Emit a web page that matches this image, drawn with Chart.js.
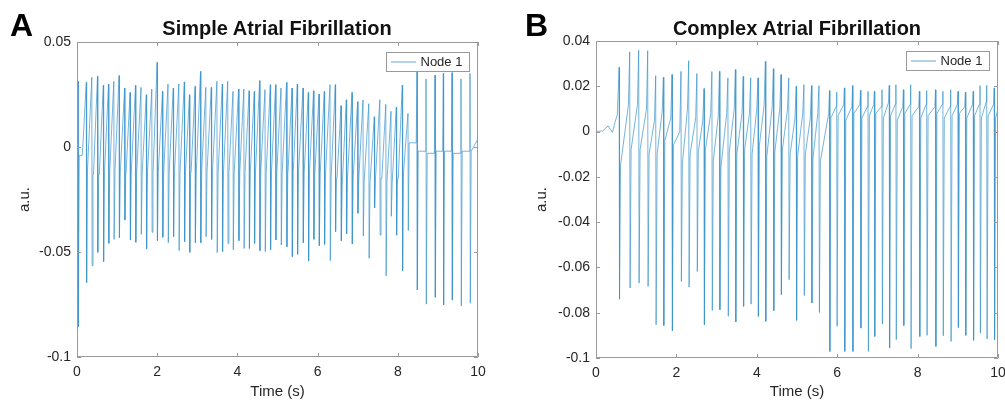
<!DOCTYPE html>
<html>
<head>
<meta charset="utf-8">
<script src="https://cdn.jsdelivr.net/npm/chart.js@4.4.1/dist/chart.umd.min.js"></script>
<style>
  body { margin: 0; background: #fff; width: 1005px; height: 403px; position: relative; overflow: hidden;
         font-family: "Liberation Sans", Arial, Helvetica, sans-serif; color: #000; }
  .panel { position: absolute; top: 0; height: 403px; }
  .letter { position: absolute; font-weight: bold; font-size: 32px; line-height: 32px; }
  .title { position: absolute; font-weight: bold; font-size: 20px; line-height: 20px; white-space: nowrap; transform: translateX(-50%); color: #111; }
</style>
</head>
<body>
<div class="panel" style="left:0;width:500px"><canvas id="chartA" width="500" height="403"></canvas></div>
<div class="panel" style="left:500px;width:505px"><canvas id="chartB" width="505" height="403"></canvas></div>
<div class="letter" style="left:10px;top:9px">A</div>
<div class="letter" style="left:525px;top:9px">B</div>
<div class="title" style="left:277px;top:18px">Simple Atrial Fibrillation</div>
<div class="title" style="left:797px;top:18px">Complex Atrial Fibrillation</div>
<script>
// ---- panel A : simple AF ----
var spikeTimesA = [0.025, 0.232, 0.369, 0.511, 0.656, 0.786, 0.918, 1.05, 1.187, 1.324,
    1.459, 1.596, 1.728, 1.865, 1.998, 2.132, 2.269, 2.401, 2.539, 2.676,
    2.805, 2.945, 3.08, 3.212, 3.349, 3.489, 3.623, 3.758, 3.89, 4.03,
    4.16, 4.292, 4.421, 4.554, 4.688, 4.82, 4.953, 5.087, 5.227, 5.362,
    5.494, 5.636, 5.768, 5.9, 6.035, 6.167, 6.309, 6.441, 6.584, 6.716,
    6.858, 6.998, 7.132, 7.277, 7.414, 7.551, 7.701, 7.83, 7.963, 8.112,
    8.254, 8.479, 8.703, 8.928, 9.135, 9.352, 9.576, 9.8];
var peakA = [0.0313, 0.0308, 0.0332, 0.0337, 0.0294, 0.030, 0.0313, 0.034, 0.0281, 0.026,
    0.0294, 0.0284, 0.0249, 0.0276, 0.0403, 0.0265, 0.030, 0.0281, 0.030, 0.031,
    0.0249, 0.0289, 0.036, 0.0284, 0.0284, 0.0313, 0.030, 0.0313, 0.0265, 0.0276,
    0.0276, 0.0268, 0.0265, 0.0316, 0.0273, 0.0297, 0.0297, 0.0281, 0.0308, 0.0281,
    0.030, 0.0281, 0.026, 0.0268, 0.0252, 0.0265, 0.0297, 0.0297, 0.0197, 0.0225,
    0.026, 0.0216, 0.0224, 0.0206, 0.0144, 0.0225, 0.0203, 0.017, 0.019, 0.0295,
    0.016, 0.0359, 0.0324, 0.0343, 0.0351, 0.0354, 0.0324, 0.0351];
var troughA = [-0.0856, -0.0646, -0.0565, -0.0502, -0.0546, -0.0459, -0.044, -0.0432, -0.0348, -0.0443,
    -0.0454, -0.0416, -0.0486, -0.0406, -0.0446, -0.043, -0.0456, -0.0427, -0.0494, -0.0451,
    -0.0502, -0.0456, -0.0456, -0.0427, -0.044, -0.0503, -0.0498, -0.0459, -0.049, -0.0446,
    -0.0483, -0.0483, -0.0459, -0.0494, -0.0498, -0.049, -0.0443, -0.0467, -0.0475, -0.0522,
    -0.0511, -0.0456, -0.0543, -0.044, -0.047, -0.0464, -0.0541, -0.0403, -0.0447, -0.0414,
    -0.0462, -0.0316, -0.0424, -0.053, -0.029, -0.0419, -0.0614, -0.033, -0.042, -0.059,
    -0.0398, -0.0681, -0.0748, -0.0716, -0.0752, -0.0729, -0.0757, -0.0744];
var restA = [-0.004, -0.011, -0.013, -0.013, -0.012, -0.012, -0.011, -0.012, -0.012, -0.012,
    -0.012, -0.012, -0.012, -0.011, -0.012, -0.012, -0.012, -0.012, -0.012, -0.012,
    -0.012, -0.012, -0.011, -0.012, -0.012, -0.012, -0.012, -0.011, -0.012, -0.012,
    -0.012, -0.012, -0.012, -0.011, -0.012, -0.012, -0.012, -0.012, -0.012, -0.012,
    -0.012, -0.012, -0.012, -0.013, -0.013, -0.013, -0.014, -0.015, -0.018, -0.015,
    -0.014, -0.015, -0.016, -0.017, -0.015, -0.015, -0.016, -0.017, -0.015, -0.012,
    0.002, -0.002, -0.003, -0.002, -0.002, -0.003, -0.002, -0.002];
var riseA = [0.1, 0.1, 0.1, 0.1, 0.1, 0.1, 0.1, 0.1, 0.1, 0.1,
    0.1, 0.1, 0.1, 0.1, 0.1, 0.1, 0.1, 0.1, 0.1, 0.1,
    0.1, 0.1, 0.1, 0.1, 0.1, 0.1, 0.1, 0.1, 0.1, 0.1,
    0.1, 0.1, 0.1, 0.1, 0.1, 0.1, 0.1, 0.1, 0.1, 0.1,
    0.1, 0.1, 0.1, 0.1, 0.1, 0.1, 0.1, 0.1, 0.1, 0.1,
    0.1, 0.1, 0.1, 0.1, 0.1, 0.1, 0.1, 0.1, 0.1, 0.1,
    0.1, 0.02, 0.015, 0.015, 0.015, 0.015, 0.015, 0.015];
var startA = 0.0;
var endA = 0.004;

// ---- panel B : complex AF ----
var leadTimesB = [0, 0.17, 0.24, 0.30, 0.36, 0.41, 0.47, 0.53];
var leadValuesB = [0, 0.0003, 0.0015, 0.0025, 0.001, -0.0003, 0.004, 0.0074];
var spikeTimesB = [0.575, 0.838, 1.062, 1.286, 1.485, 1.677, 1.891, 2.114, 2.306, 2.51,
    2.687, 2.883, 3.072, 3.281, 3.468, 3.662, 3.848, 4.03, 4.214, 4.413,
    4.602, 4.794, 4.98, 5.172, 5.361, 5.547, 5.808, 5.988, 6.179, 6.381,
    6.58, 6.766, 6.925, 7.114, 7.294, 7.46, 7.647, 7.828, 8.045, 8.226,
    8.445, 8.629, 8.823, 9.005, 9.189, 9.383, 9.552, 9.719, 9.905];
var peakB = [0.0284, 0.0352, 0.0359, 0.0357, 0.0247, 0.024, 0.0252, 0.0266, 0.0313, 0.0256,
    0.019, 0.0265, 0.0266, 0.0237, 0.0274, 0.0244, 0.0237, 0.0237, 0.031, 0.0278,
    0.0252, 0.0237, 0.020, 0.0207, 0.0203, 0.0203, 0.0181, 0.0174, 0.0193, 0.0203,
    0.0182, 0.0178, 0.0178, 0.0185, 0.0204, 0.0207, 0.0185, 0.0207, 0.0178, 0.0181,
    0.0185, 0.0178, 0.0185, 0.0178, 0.0174, 0.0178, 0.0203, 0.0204, 0.0193];
var troughB = [-0.074, -0.0691, -0.0669, -0.0684, -0.0853, -0.0857, -0.088, -0.0662, -0.0687, -0.0618,
    -0.0853, -0.079, -0.0787, -0.0816, -0.0841, -0.0772, -0.0762, -0.0816, -0.0838, -0.0791,
    -0.072, -0.0654, -0.0834, -0.0724, -0.0757, -0.0799, -0.0971, -0.086, -0.0971, -0.0971,
    -0.0868, -0.0971, -0.0905, -0.085, -0.0956, -0.0919, -0.0857, -0.0959, -0.0905, -0.09,
    -0.0949, -0.0902, -0.0927, -0.0865, -0.09, -0.0922, -0.089, -0.0916, -0.0919];
var restB = [-0.015, -0.008, -0.008, -0.010, -0.010, -0.004, -0.006, -0.014, -0.010, -0.009,
    -0.008, -0.013, -0.016, -0.009, -0.010, -0.008, -0.010, -0.006, -0.011, -0.009,
    -0.008, -0.010, -0.011, -0.010, -0.012, -0.013, 0.006, 0.007, 0.005, 0.008,
    0.006, 0.007, 0.008, 0.006, 0.007, 0.005, 0.008, 0.007, 0.006, 0.007,
    0.008, 0.006, 0.007, 0.008, 0.006, 0.007, 0.006, 0.007, 0.006];
var preB = [0.0074, 0.012, 0.012, 0.010, 0.005, 0.009, 0.006, 0.0, 0.010, 0.006,
    0.005, 0.008, 0.007, 0.008, 0.010, 0.008, 0.008, 0.010, 0.012, 0.011,
    0.010, 0.010, 0.006, 0.008, 0.006, 0.008, 0.008, 0.011, 0.012, 0.011,
    0.012, 0.011, 0.012, 0.011, 0.013, 0.012, 0.011, 0.012, 0.011, 0.012,
    0.011, 0.012, 0.011, 0.012, 0.011, 0.012, 0.012, 0.013, 0.012];
var riseB = [0.03, 0.03, 0.03, 0.03, 0.03, 0.03, 0.03, 0.03, 0.03, 0.03,
    0.03, 0.03, 0.03, 0.03, 0.03, 0.03, 0.03, 0.03, 0.03, 0.03,
    0.03, 0.03, 0.03, 0.03, 0.03, 0.03, 0.02, 0.015, 0.015, 0.015,
    0.015, 0.015, 0.015, 0.015, 0.015, 0.015, 0.015, 0.015, 0.015, 0.015,
    0.015, 0.015, 0.015, 0.015, 0.015, 0.015, 0.015, 0.015, 0.015];
var endB = 0.01;

var xTicks = [0, 2, 4, 6, 8, 10];
var yTicksA = [-0.1, -0.05, 0, 0.05];
var yTicksB = [-0.1, -0.08, -0.06, -0.04, -0.02, 0, 0.02, 0.04];
var legendLabel = 'Node 1';

var lineColor = '#3b93cc';
var axisColor = '#9a9a9a';
var textColor = '#262626';

Chart.defaults.font.family = '"Liberation Sans", Arial, Helvetica, sans-serif';
Chart.defaults.color = textColor;

function buildSignalA() {
    var pts = [{x: 0, y: startA}];
    var restT = 0;
    for (let i = 0; i < spikeTimesA.length; i++) {
        var t = spikeTimesA[i];
        if (i > 0) {
            var preT = Math.max(t - riseA[i], restT + 0.004);
            pts.push({x: preT, y: restA[i - 1]});
        }
        pts.push({x: t, y: peakA[i]});
        pts.push({x: t + 0.008, y: troughA[i]});
        restT = t + 0.03;
        pts.push({x: restT, y: restA[i]});
    }
    pts.push({x: 10, y: endA});
    return pts;
}

function buildSignalB() {
    var pts = [];
    for (let k = 0; k < leadTimesB.length; k++) {
        pts.push({x: leadTimesB[k], y: leadValuesB[k]});
    }
    for (let i = 0; i < spikeTimesB.length; i++) {
        var t = spikeTimesB[i];
        pts.push({x: t - riseB[i], y: preB[i]});
        pts.push({x: t, y: peakB[i]});
        pts.push({x: t + 0.01, y: troughB[i]});
        pts.push({x: t + 0.035, y: restB[i]});
    }
    pts.push({x: 10, y: endB});
    return pts;
}

function fmtTick(v) {
    return String(Math.round(v * 1000) / 1000);
}

// box, inward ticks on all four sides and the legend, MATLAB style
var matlabAxes = {
    id: 'matlabAxes',
    afterDraw: function(chart) {
        var ctx = chart.ctx;
        var a = chart.chartArea;
        var xs = chart.scales.x;
        var ys = chart.scales.y;
        var yt = chart.options.plugins.matlabAxes.yTicks;
        ctx.save();
        ctx.strokeStyle = axisColor;
        ctx.lineWidth = 1;
        ctx.beginPath();
        ctx.rect(a.left + 0.5, a.top + 0.5, a.right - a.left - 1, a.bottom - a.top - 1);
        xTicks.forEach(function(v) {
            var px = Math.round(xs.getPixelForValue(v)) + 0.5;
            ctx.moveTo(px, a.bottom); ctx.lineTo(px, a.bottom - 4);
            ctx.moveTo(px, a.top); ctx.lineTo(px, a.top + 4);
        });
        yt.forEach(function(v) {
            var py = Math.round(ys.getPixelForValue(v)) + 0.5;
            ctx.moveTo(a.left, py); ctx.lineTo(a.left + 4, py);
            ctx.moveTo(a.right, py); ctx.lineTo(a.right - 4, py);
        });
        ctx.stroke();

        // legend
        var bw = 83, bh = 19;
        var bx = Math.round(a.right - 9 - bw) + 0.5;
        var by = Math.round(a.top + 10) + 0.5;
        ctx.fillStyle = '#fff';
        ctx.fillRect(bx, by, bw, bh);
        ctx.strokeStyle = '#9a9a9a';
        ctx.strokeRect(bx, by, bw, bh);
        ctx.strokeStyle = lineColor;
        ctx.lineWidth = 0.8;
        ctx.beginPath();
        ctx.moveTo(bx + 4.5, by + bh / 2);
        ctx.lineTo(bx + 29.5, by + bh / 2);
        ctx.stroke();
        ctx.fillStyle = textColor;
        ctx.font = '13px "Liberation Sans", Arial, sans-serif';
        ctx.textBaseline = 'middle';
        ctx.textAlign = 'left';
        ctx.fillText(legendLabel, bx + 34, by + bh / 2 + 0.5);
        ctx.restore();
    }
};

function makeConfig(points, yMin, yMax, yStep, yTicks, yAxisWidth, xAxisHeight, pad, titleOffset) {
    return {
        type: 'line',
        data: {
            datasets: [{
                label: legendLabel,
                data: points,
                borderColor: lineColor,
                borderWidth: 0.7,
                pointRadius: 0,
                tension: 0,
                fill: false
            }]
        },
        options: {
            responsive: false,
            animation: false,
            devicePixelRatio: 1,
            layout: {padding: pad},
            plugins: {
                legend: {display: false},
                tooltip: {enabled: false},
                matlabAxes: {yTicks: yTicks}
            },
            scales: {
                x: {
                    type: 'linear',
                    min: 0,
                    max: 10,
                    grid: {display: false, drawTicks: false},
                    border: {display: false},
                    ticks: {stepSize: 2, autoSkip: false, maxRotation: 0, padding: 7,
                            font: {size: 14}, color: textColor,
                            callback: function(v) { return fmtTick(v); }},
                    title: {display: true, text: 'Time (s)', font: {size: 15}, color: textColor,
                            padding: {top: 0, bottom: 2}},
                    afterFit: function(s) { s.height = xAxisHeight; s.paddingLeft = 0; s.paddingRight = 0; }
                },
                y: {
                    min: yMin,
                    max: yMax,
                    grid: {display: false, drawTicks: false},
                    border: {display: false},
                    ticks: {stepSize: yStep, autoSkip: false, padding: 6,
                            font: {size: 14}, color: textColor,
                            callback: function(v) { return fmtTick(v); }},
                    title: {display: true, text: 'a.u.', font: {size: 15}, color: textColor,
                            padding: {top: titleOffset, bottom: 0}},
                    afterFit: function(s) { s.width = yAxisWidth; s.paddingTop = 0; s.paddingBottom = 0; }
                }
            }
        },
        plugins: [matlabAxes]
    };
}

var ctxA = document.getElementById('chartA').getContext('2d');
window.chartA = new Chart(ctxA, makeConfig(buildSignalA(), -0.1, 0.05, 0.05, yTicksA, 77, 46,
    {top: 42, right: 22, bottom: 0, left: 0}, 16));

var ctxB = document.getElementById('chartB').getContext('2d');
window.chartB = new Chart(ctxB, makeConfig(buildSignalB(), -0.1, 0.04, 0.02, yTicksB, 96, 45,
    {top: 41, right: 7, bottom: 0, left: 0}, 33));
</script>
</body>
</html>
